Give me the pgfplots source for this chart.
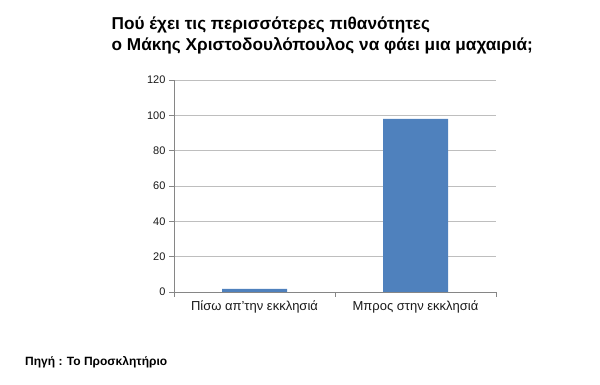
\documentclass[border=0pt]{standalone}
\usepackage{pgfplots}
\pgfplotsset{compat=1.18}
\usepackage{fontspec}
\setmainfont{Liberation Sans}
\definecolor{barblue}{RGB}{79,129,189}
\definecolor{gridgray}{RGB}{190,190,190}
\definecolor{axgray}{RGB}{134,134,134}
\begin{document}
\begin{tikzpicture}
\path[use as bounding box] (0pt,0pt) rectangle (600pt,385pt);
\node[anchor=base west,font=\bfseries\fontsize{17.2}{20}\selectfont,inner sep=0] at (111.5pt,355pt) {Πού έχει τις περισσότερες πιθανότητες};
\node[anchor=base west,font=\bfseries\fontsize{17.2}{20}\selectfont,inner sep=0] at (111.5pt,334.3pt) {ο Μάκης Χριστοδουλόπουλος να φάει μια μαχαιριά;};
\node[anchor=base west,font=\bfseries\fontsize{12}{14}\selectfont,inner sep=0] at (25pt,19pt) {Πηγή : Το Προσκλητήριο};
\begin{axis}[
  at={(174pt,93pt)}, anchor=south west,
  width=322pt, height=212pt, scale only axis,
  ybar, bar width=65pt,
  xmin=-0.5, xmax=1.5, ymin=0, ymax=120,
  ytick={0,20,...,120},
  xtick={-0.5,0.5,1.5},
  x tick label as interval,
  xticklabels={Πίσω απ'την εκκλησιά,Μπρος στην εκκλησιά},
  axis x line*=bottom, axis y line*=left,
  axis line style={axgray,-},
  ymajorgrids, grid style={gridgray,line width=0.8pt},
  tick style={axgray,line width=0.6pt},
  tick align=outside,
  major tick length=5pt,
  yticklabel style={font=\fontsize{11}{13}\selectfont,text=black!90},
  xticklabel style={font=\fontsize{13}{15}\selectfont,text=black!90},
  /pgf/number format/assume math mode=true,
]
\addplot[fill=barblue,draw=none] coordinates {(0,1.7) (1,98)};
\end{axis}
\end{tikzpicture}
\end{document}
